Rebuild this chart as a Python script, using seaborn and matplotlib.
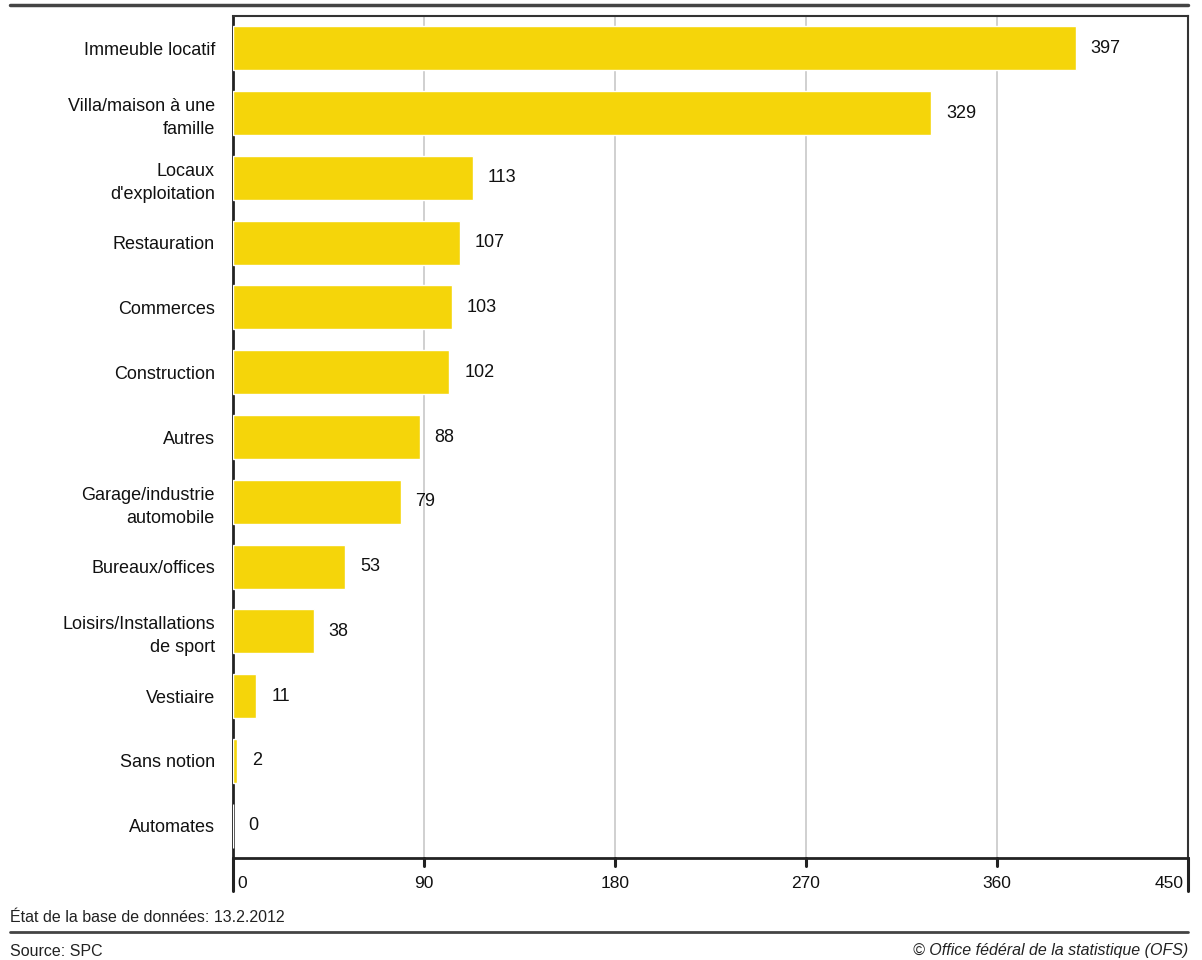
import matplotlib
matplotlib.use("Agg")
import matplotlib.pyplot as plt
import seaborn as sns
import pandas as pd
from matplotlib.ticker import MultipleLocator
from matplotlib.lines import Line2D

categories = ["Immeuble locatif", "Villa/maison à une\nfamille", "Locaux\nd'exploitation",
              "Restauration", "Commerces", "Construction", "Autres",
              "Garage/industrie\nautomobile", "Bureaux/offices",
              "Loisirs/Installations\nde sport", "Vestiaire", "Sans notion", "Automates"]
values = [397, 329, 113, 107, 103, 102, 88, 79, 53, 38, 11, 2, 0]
x_ticks = [0, 90, 180, 270, 360, 450]

sns.set_theme(style="white")
plt.rcParams['font.family'] = ['Liberation Sans', 'DejaVu Sans']

df = pd.DataFrame({"cat": categories, "val": values})

fig = plt.figure(figsize=(12.02, 9.6), dpi=100)
ax = fig.add_axes([233/1202, 1-858/960, (1188-233)/1202, (858-16)/960])

sns.barplot(data=df, x="val", y="cat", orient="h", color="#F5D50A",
            saturation=1, width=0.68, ax=ax, zorder=3)

ax.set_xlim(0, 450)
ax.set_ylim(12.5, -0.5)
ax.set_xlabel("")
ax.set_ylabel("")
ax.set_xticks(x_ticks)
ax.set_xticklabels([])
ax.xaxis.set_minor_locator(MultipleLocator(18))
ax.tick_params(axis="x", which="major", length=0)
ax.tick_params(axis="x", which="minor", length=5, color="#e0e0e0", width=1, direction="out")
ax.tick_params(axis="y", length=0, pad=13, labelsize=13, labelcolor="#111111")
for t in ax.get_yticklabels():
    t.set_horizontalalignment("right")
    t.set_multialignment("right")
    t.set_linespacing(1.45)

ax.grid(axis="x", color="#c8c8c8", linewidth=1.2, zorder=0)
ax.set_axisbelow(True)
for s in ["top", "right"]:
    ax.spines[s].set_color("#333333")
    ax.spines[s].set_linewidth(1.5)
for s in ["left", "bottom"]:
    ax.spines[s].set_color("#222222")
    ax.spines[s].set_linewidth(2)

# value labels
for i, v in enumerate(values):
    ax.text(v + 7, i, str(v), va="center", ha="left", fontsize=13, color="#111111")

# custom major ticks and tick labels below axis
trans = ax.get_xaxis_transform()
for xv in x_ticks:
    if xv in (0, 450):
        ax.add_line(Line2D([xv, xv], [0, -33/842], transform=trans, color="#222222",
                           linewidth=2.2, clip_on=False))
    else:
        ax.add_line(Line2D([xv, xv], [0, -8/842], transform=trans, color="#222222",
                           linewidth=2.2, clip_on=False))
    if xv == 0:
        ha, off = "left", 2
    elif xv == 450:
        ha, off = "right", -2
    else:
        ha, off = "center", 0
    ax.text(xv + off, -26/842, str(xv), transform=trans, ha=ha, va="center",
            fontsize=12.5, color="#111111")

# header and footer lines / texts
fig.add_artist(Line2D([10/1202, 1188/1202], [1-5/960, 1-5/960], color="#444444", linewidth=2.5))
fig.add_artist(Line2D([10/1202, 1188/1202], [1-932/960, 1-932/960], color="#444444", linewidth=2))
fig.text(10/1202, 1-917/960, "État de la base de données: 13.2.2012", ha="left", va="center",
         fontsize=11.5, color="#222222")
fig.text(10/1202, 1-952/960, "Source: SPC", ha="left", va="center", fontsize=11.5, color="#222222")
fig.text(1188/1202, 1-951/960, "© Office fédéral de la statistique (OFS)", ha="right", va="center",
         fontsize=11.5, color="#222222", style="italic")

fig.savefig("out.png", dpi=100)
